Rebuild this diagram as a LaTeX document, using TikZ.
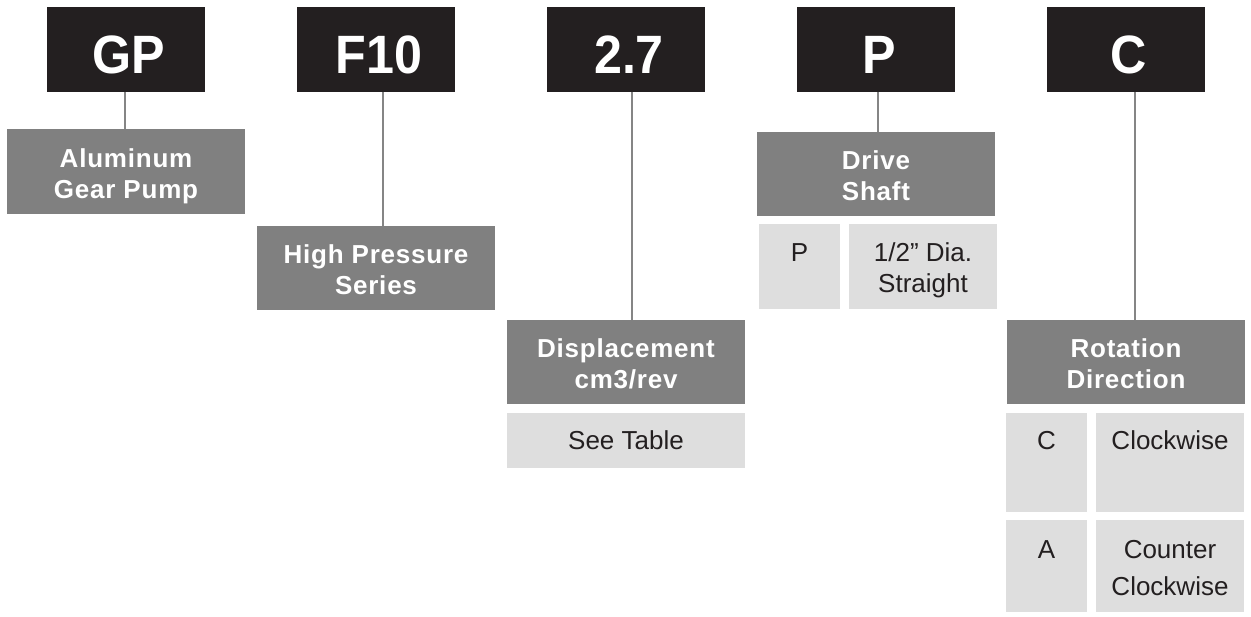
\documentclass[tikz,border=0pt]{standalone}
\usepackage{fontspec}
\setmainfont{Liberation Sans}
\newfontfamily\hdrfamily[FakeStretch=0.93]{Liberation Sans Bold}
\newfontfamily\catfamily[LetterSpace=3]{Liberation Sans Bold}
\newfontfamily\optfamily{Liberation Sans}
\definecolor{hdrblack}{HTML}{231F20}
\definecolor{catgray}{HTML}{808080}
\definecolor{optgray}{HTML}{DEDEDE}
\definecolor{linkgray}{HTML}{858585}
\newcommand\twoline[3]{\vtop{\baselineskip=#3pt\lineskiplimit=-100pt\lineskip=0pt\halign{\hfil##\hfil\cr#1\cr#2\cr}}}
\newcommand\hdtext[1]{\kern6pt #1}
\begin{document}
\begin{tikzpicture}[x=1pt,y=-1pt,
  hdr/.style={fill=hdrblack, minimum width=158, minimum height=85, inner sep=0, outer sep=0,
    text=white, font=\hdrfamily\fontsize{54}{60}\selectfont, text height=49, text depth=0},
  cat/.style={fill=catgray, minimum width=238, minimum height=84.5, inner sep=0, outer sep=0,
    text=white, font=\catfamily\fontsize{26}{31}\selectfont, text height=0, text depth=8},
  opt/.style={fill=optgray, inner sep=0, outer sep=0, text=hdrblack,
    font=\optfamily\fontsize{26}{31}\selectfont},
  keycell/.style={opt, minimum width=81},
  valcell/.style={opt, minimum width=148},
  link/.style={draw=linkgray, line width=2}]
\useasboundingbox (0,0) rectangle (1251,617);
% header codes
\node[hdr] (hGP)  at (126,49.5)  {\hdtext{GP}};
\node[hdr] (hF)   at (376,49.5)  {\hdtext{F10}};
\node[hdr] (hD)   at (626,49.5)  {\hdtext{2.7}};
\node[hdr] (hP)   at (876,49.5)  {\hdtext{P}};
\node[hdr] (hC)   at (1126,49.5) {\hdtext{C}};
% category boxes
\node[cat] (alu)   at (126,171.5) {\twoline{Aluminum}{Gear Pump}{31}};
\node[cat] (hp)    at (376,268)   {\twoline{High Pressure}{Series}{31}};
\node[cat] (disp)  at (626,362)   {\twoline{Displacement}{cm3/rev}{31}};
\node[cat] (drive) at (876,174)   {\twoline{Drive}{Shaft}{31}};
\node[cat] (rot)   at (1126,362)  {\twoline{Rotation}{Direction}{31}};
% option cells
\node[opt, minimum width=238, minimum height=55, text height=19, text depth=0] (see) at (626,440.5) {See Table};
\node[keycell, minimum height=85, text height=0, text depth=9] (pKey) at (799.5,266.5) {P};
\node[valcell, minimum height=85, text height=0, text depth=9] (pVal) at (923,266.5) {\twoline{1/2” Dia.}{Straight}{31}};
\node[keycell, minimum height=99, text height=0, text depth=25] (cKey) at (1046.5,462.5) {C};
\node[valcell, minimum height=99, text height=0, text depth=25] (cVal) at (1170,462.5) {Clockwise};
\node[keycell, minimum height=92, text height=0, text depth=16] (aKey) at (1046.5,566) {A};
\node[valcell, minimum height=92, text height=0, text depth=16] (aVal) at (1170,566) {\twoline{Counter}{Clockwise}{37}};
% connectors
\draw[link] ([xshift=-1]hGP.south) -- ([xshift=-1]hGP.south |- alu.north);
\draw[link] ([xshift=7]hF.south) -- ([xshift=7]hF.south |- hp.north);
\draw[link] ([xshift=6]hD.south) -- ([xshift=6]hD.south |- disp.north);
\draw[link] ([xshift=2]hP.south) -- ([xshift=2]hP.south |- drive.north);
\draw[link] ([xshift=9]hC.south) -- ([xshift=9]hC.south |- rot.north);
\end{tikzpicture}
\end{document}
